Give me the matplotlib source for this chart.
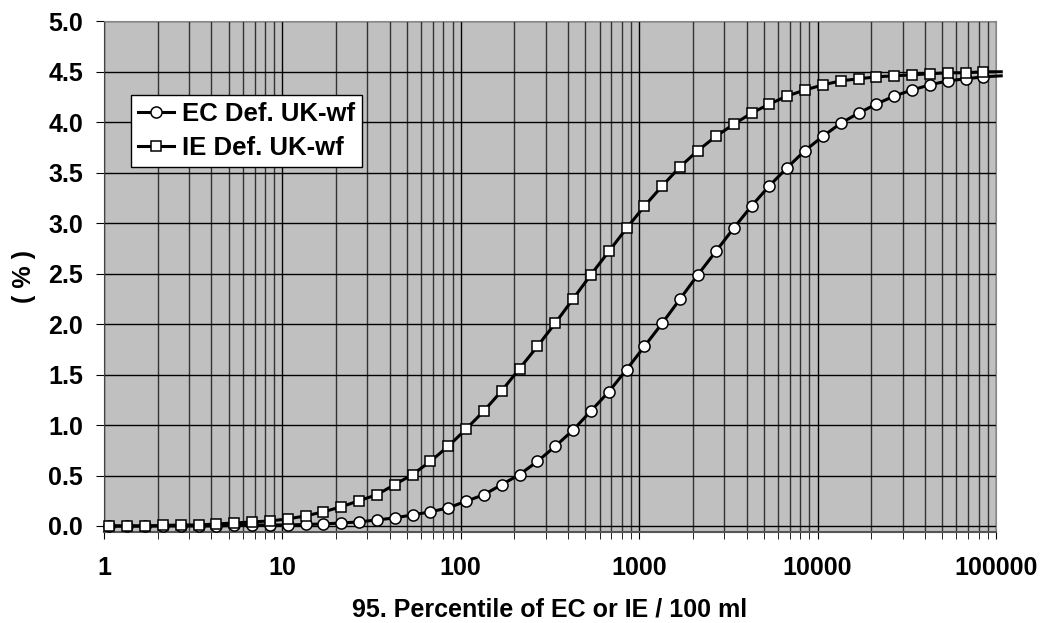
import matplotlib.pyplot as plt
import numpy as np
from matplotlib.ticker import LogLocator, NullFormatter

plt.rcParams['font.family'] = ['Liberation Sans', 'DejaVu Sans']
plt.rcParams['font.weight'] = 'bold'

# percentile values (10 steps per decade); last point lies just past the axis
percentile = [10 ** (0.03 + 0.1 * k) for k in range(51)]

ie_def = [0.0, 0.0, 0.0, 0.005, 0.01, 0.01, 0.02, 0.03, 0.04, 0.05,
          0.07, 0.10, 0.14, 0.19, 0.25, 0.31, 0.41, 0.51, 0.64, 0.79,
          0.96, 1.14, 1.34, 1.56, 1.78, 2.01, 2.25, 2.49, 2.72, 2.95,
          3.17, 3.37, 3.56, 3.72, 3.86, 3.98, 4.09, 4.18, 4.26, 4.32,
          4.37, 4.41, 4.43, 4.45, 4.46, 4.47, 4.48, 4.49, 4.49, 4.50,
          4.50]
ec_def = [0.0, 0.0, 0.0, 0.0, 0.0, 0.0, 0.0, 0.005, 0.01, 0.01,
          0.01, 0.015, 0.02, 0.03, 0.04, 0.06, 0.08, 0.11, 0.14, 0.18,
          0.245, 0.31, 0.41, 0.51, 0.64, 0.79, 0.95, 1.14, 1.33, 1.55,
          1.78, 2.01, 2.25, 2.49, 2.72, 2.95, 3.17, 3.37, 3.55, 3.72,
          3.86, 3.99, 4.09, 4.18, 4.26, 4.32, 4.37, 4.41, 4.43, 4.45,
          4.46]

x_ticks = [1, 10, 100, 1000, 10000, 100000]
y_ticks = [0.0, 0.5, 1.0, 1.5, 2.0, 2.5, 3.0, 3.5, 4.0, 4.5, 5.0]

fig = plt.figure(figsize=(10.45, 6.23), dpi=100)
ax = fig.add_axes([0.0995, 0.146, 0.8535, 0.8198])
ax.set_facecolor('#C0C0C0')

marks = list(range(50))
ax.plot(percentile, ec_def, '-o', color='black', lw=2.2, ms=8.0,
        mfc='white', mec='black', mew=1.1, markevery=marks,
        clip_on=False, label='EC Def. UK-wf', zorder=3)
ax.plot(percentile, ie_def, '-s', color='black', lw=2.2, ms=7.8,
        mfc='white', mec='black', mew=1.1, markevery=marks,
        clip_on=False, label='IE Def. UK-wf', zorder=4)

ax.set_xscale('log')
ax.set_xlim(1, 100000)
ax.set_ylim(-0.06, 5.0)
ax.set_xticks(x_ticks)
ax.set_xticklabels([str(v) for v in x_ticks])
ax.xaxis.set_minor_locator(LogLocator(base=10, subs=np.arange(2, 10)))
ax.xaxis.set_minor_formatter(NullFormatter())
ax.set_yticks(y_ticks)
ax.set_yticklabels([f'{v:.1f}' for v in y_ticks])

ax.grid(True, which='major', axis='both', color='black', lw=1.0)
ax.grid(True, which='minor', axis='x', color='#333333', lw=1.0)
ax.set_axisbelow(True)

ax.tick_params(axis='y', which='major', labelsize=18, length=6,
               direction='out', color='black', pad=9)
ax.tick_params(axis='x', which='both', labelsize=18, length=5,
               direction='out', color='black', pad=12)
for s in ax.spines.values():
    s.set_color('#888888')
ax.spines['left'].set_color('#444444')
ax.spines['bottom'].set_color('#555555')
ax.spines['bottom'].set_linewidth(1.5)

ax.set_xlabel('95. Percentile of EC or IE / 100 ml', fontsize=18,
              fontweight='bold')
ax.xaxis.label.set_va('center')
ax.xaxis.set_label_coords(0.5, -0.151)
ax.set_ylabel('( % )', fontsize=18, fontweight='bold')
ax.yaxis.label.set_va('center')
ax.yaxis.set_label_coords(-0.09, 0.5)

leg = ax.legend(loc='upper left', bbox_to_anchor=(0.030, 0.856),
                fontsize=18.5, handlelength=1.4, handletextpad=0.3,
                borderpad=0.28, labelspacing=0.38, fancybox=False,
                framealpha=1, edgecolor='black', borderaxespad=0)
leg.get_frame().set_linewidth(1.0)

fig.savefig('out.png', dpi=100)
